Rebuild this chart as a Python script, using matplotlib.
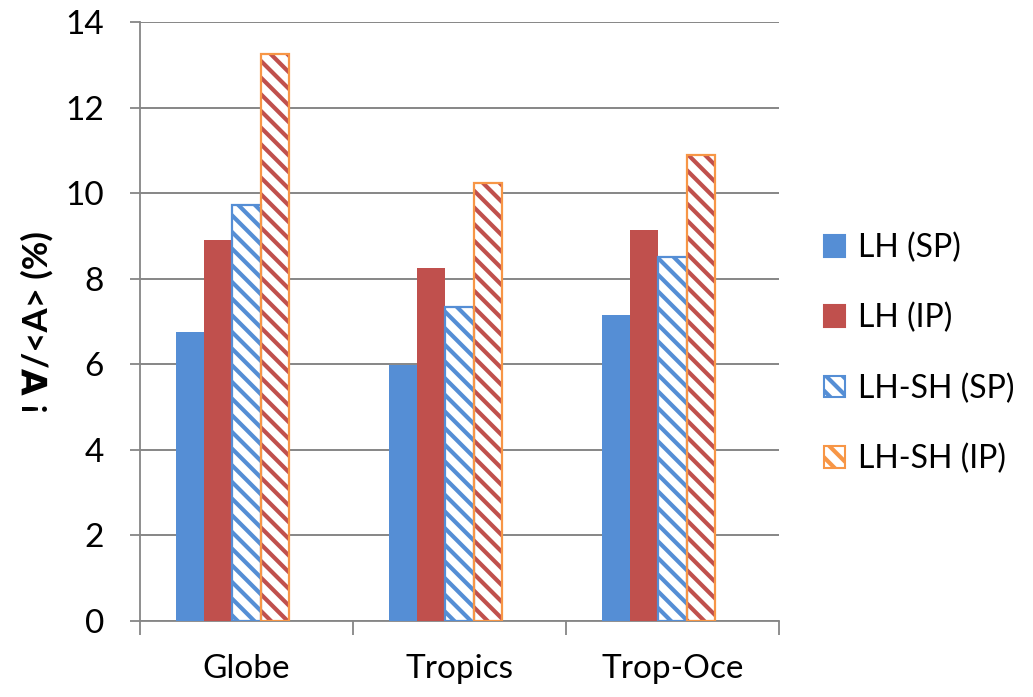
import numpy as np
import matplotlib
matplotlib.use("Agg")
import matplotlib.pyplot as plt
from matplotlib.patches import Patch

categories = ["Globe", "Tropics", "Trop-Oce"]
series_names = ["LH (SP)", "LH (IP)", "LH-SH (SP)", "LH-SH (IP)"]
lh_sp = [6.75, 5.98, 7.15]
lh_ip = [8.9, 8.25, 9.15]
lhsh_sp = [9.72, 7.35, 8.51]
lhsh_ip = [13.27, 10.25, 10.89]
y_ticks = [0, 2, 4, 6, 8, 10, 12, 14]

plt.rcParams['font.family'] = ['Lato', 'DejaVu Sans']
plt.rcParams['hatch.linewidth'] = 3.0

blue = "#558ED5"
red = "#C0504D"
orange = "#F79646"
grid_grey = "#868686"

fig = plt.figure(figsize=(10.33, 6.97), dpi=100)
ax = fig.add_axes([0.1355, 0.109, 0.6185, 0.859])

x = np.arange(len(categories)) + 0.5
w = 0.1327
# six slots per group, the last two are left empty
fill_cols = [blue, red, "white", "white"]
hatch_cols = [blue, red, blue, red]
edge_cols = [blue, red, blue, orange]
hatches = [None, None, "\\\\", "\\\\"]
values = [lh_sp, lh_ip, lhsh_sp, lhsh_ip]

for i, vals in enumerate(values):
    off = (i - 2.5) * w + w / 2
    if hatches[i]:
        ax.bar(x + off, vals, w, color="white", edgecolor=hatch_cols[i],
               hatch=hatches[i], linewidth=0, zorder=3)
        # frame drawn on top so hatch and edge colours can differ
        ax.bar(x + off, vals, w, fill=False, edgecolor=edge_cols[i],
               linewidth=1.6, zorder=4)
    else:
        ax.bar(x + off, vals, w, color=fill_cols[i], linewidth=0, zorder=3)

ax.set_xlim(0, 3)
ax.set_ylim(0, 14)
ax.set_yticks(y_ticks)
ax.set_xticks(x)
ax.set_xticklabels(categories)
ax.set_xticks([0, 1, 2, 3], minor=True)
ax.tick_params(axis="x", which="major", length=0, pad=24, labelsize=24)
ax.tick_params(axis="x", which="minor", length=10, width=1.3, color=grid_grey)
ax.tick_params(axis="y", length=7, width=1.3, color=grid_grey, labelsize=24, pad=19)

ax.yaxis.grid(True, color=grid_grey, linewidth=1.4, zorder=0)
ax.set_axisbelow(True)
for s in ["top", "right"]:
    ax.spines[s].set_visible(False)
for s in ["left", "bottom"]:
    ax.spines[s].set_color(grid_grey)
    ax.spines[s].set_linewidth(1.3)

ax.set_ylabel("! \u2200/<A> (%)", fontsize=25, fontweight="bold", labelpad=8)

handles = [Patch(facecolor=fill_cols[i], edgecolor=edge_cols[i],
                 hatch=hatches[i], linewidth=1.5) for i in range(4)]
leg = ax.legend(handles, series_names, loc="center left", bbox_to_anchor=(1.05, 0.447),
                frameon=False, fontsize=23, handlelength=0.67, handleheight=0.67,
                handletextpad=0.4, labelspacing=1.25, borderaxespad=0)
for h, hc in zip(leg.legend_handles, hatch_cols):
    if hasattr(h, "set_hatchcolor"):
        h.set_hatchcolor(hc)

fig.savefig("out.png", dpi=100)
